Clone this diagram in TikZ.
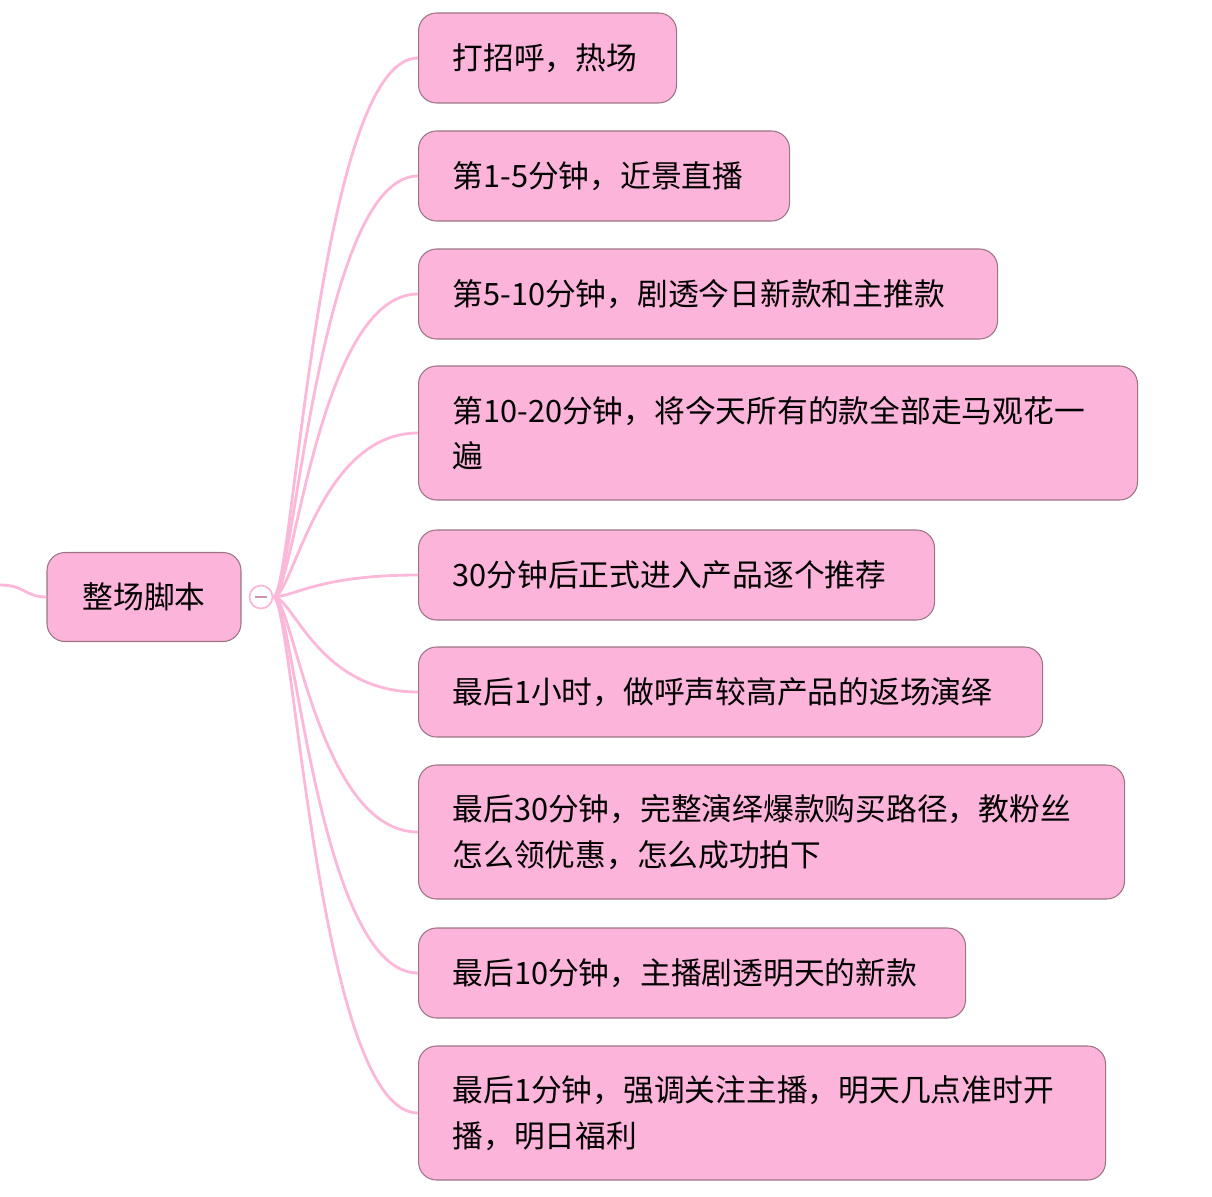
\documentclass[tikz,border=0pt]{standalone}
\usepackage{fontspec}
\setmainfont{Noto Sans CJK SC}
\usetikzlibrary{calc}
\definecolor{leafpink}{HTML}{FDB4DA}
\definecolor{edgepink}{HTML}{FBB8D8}
\definecolor{boxline}{HTML}{9C7484}
\tikzset{
  topic/.style={draw=boxline, line width=0.6pt, fill=leafpink, rounded corners=0.36cm,
    anchor=west, align=left, inner xsep=0.68cm, inner ysep=0cm,
    font=\fontsize{17.5}{26}\selectfont},
  branch/.style={draw=edgepink, line width=1.6pt},
}
\begin{document}
\begin{tikzpicture}[x=0.02cm, y=-0.02cm]
	\useasboundingbox (0,0) rectangle (1212,1196);

	% Root topic
	\node[topic, minimum width=3.88cm, minimum height=1.78cm, anchor=center, inner xsep=0cm] (root) at (144,597) {整场脚本};
	\coordinate (stub) at (0,585);
	\draw[branch] (stub) .. controls (25,585) and (25,597) .. (root.west);
	\node[circle, draw=edgepink, fill=white, line width=1pt, minimum size=0.46cm, inner sep=0pt] (fold) at (261,597) {};
	\draw[line width=0.6pt, edgepink!80!black] ($(fold)-(6,0)$) -- ($(fold)+(6,0)$);

	% Steps
	\foreach \name/\y/\w/\h/\txt in {
	  s1/58/258/90/{打招呼，热场},
	  s2/176/371/90/{第1-5分钟，近景直播},
	  s3/294/579/90/{第5-10分钟，剧透今日新款和主推款},
	  s4/433/719/134/{第10-20分钟，将今天所有的款全部走马观花一\\遍},
	  s5/575/516/90/{30分钟后正式进入产品逐个推荐},
	  s6/692/624/90/{最后1小时，做呼声较高产品的返场演绎},
	  s7/832/706/134/{最后30分钟，完整演绎爆款购买路径，教粉丝\\怎么领优惠，怎么成功拍下},
	  s8/973/547/90/{最后10分钟，主播剧透明天的新款},
	  s9/1113/687/134/{最后1分钟，强调关注主播，明天几点准时开\\播，明日福利}}
	{
	  \node[topic, text width=\w*0.02cm-1.36cm, minimum height=\h*0.02cm] (\name) at (418,\y) {\txt};
	  \draw[branch] (fold.east) .. controls ($(fold.east)+(20,0)$) and ($(\name.west)-(100,0)$) .. (\name.west);
	}

\end{tikzpicture}
\end{document}
